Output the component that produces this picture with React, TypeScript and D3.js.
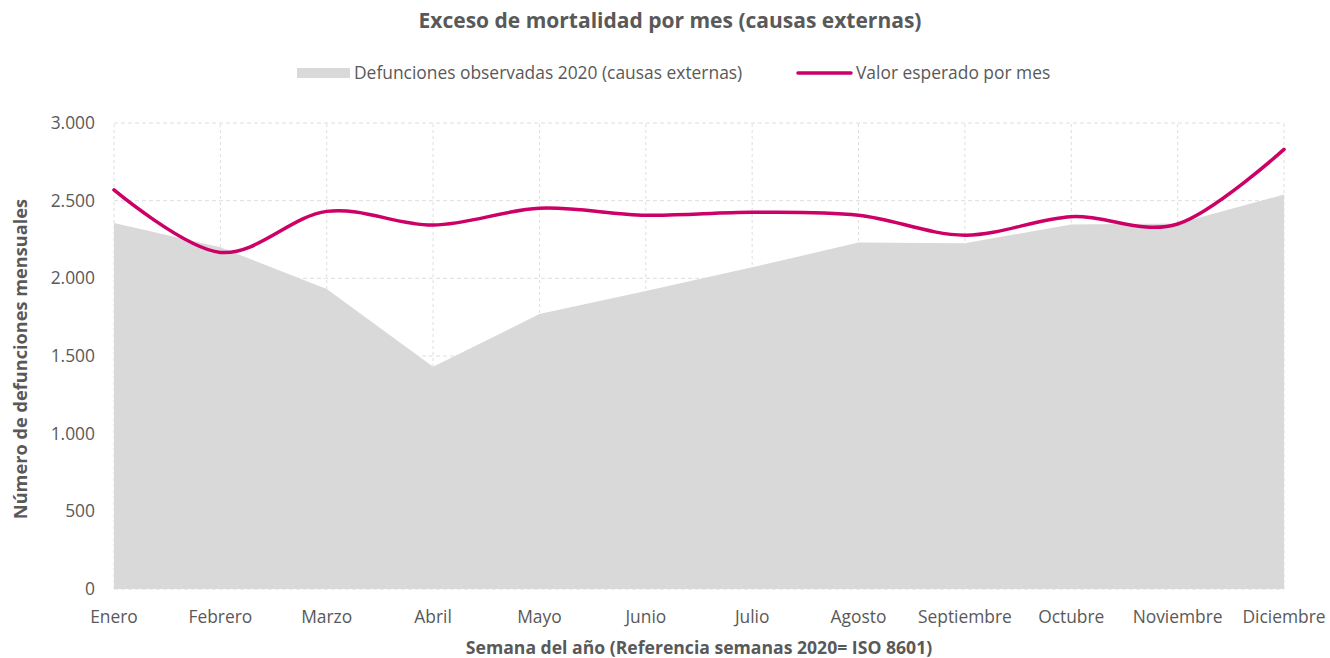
import React from "react";
import * as d3 from "d3";

const width = 1330;
const height = 658;
const margin = { top: 123, right: 46, bottom: 69, left: 114 };

const months = [
  "Enero", "Febrero", "Marzo", "Abril", "Mayo", "Junio",
  "Julio", "Agosto", "Septiembre", "Octubre", "Noviembre", "Diciembre"
];
const observed = [2356, 2200, 1931, 1431, 1770, 1918, 2071, 2230, 2226, 2347, 2353, 2539];
const expected = [2569, 2167, 2431, 2343, 2451, 2406, 2425, 2406, 2278, 2397, 2350, 2830];
const yTicks = [0, 500, 1000, 1500, 2000, 2500, 3000];

const textColor = "#595959";
const font = "'Open Sans', sans-serif";

const fmt = (v: number) => (v >= 1000 ? d3.format(",")(v).replace(",", ".") : String(v));

export default function App() {
  const x = d3
    .scalePoint<string>()
    .domain(months)
    .range([margin.left, width - margin.right]);
  const y = d3
    .scaleLinear()
    .domain([0, 3000])
    .range([height - margin.bottom, margin.top]);

  const area = d3
    .area<number>()
    .x((d, i) => x(months[i]) as number)
    .y0(y(0))
    .y1(d => y(d));

  const line = d3
    .line<number>()
    .x((d, i) => x(months[i]) as number)
    .y(d => y(d))
    .curve(d3.curveCatmullRom.alpha(0));

  return (
    <div style={{ position: "absolute", left: 0, top: 0 }}>
      <svg width={width} height={height} style={{ display: "block", fontFamily: font }}>
        <rect width={width} height={height} fill="#fff" />
        <text x={670} y={28} textAnchor="middle" fontSize={21} fontWeight="bold" fill={textColor}>
          Exceso de mortalidad por mes (causas externas)
        </text>

        {/* legend */}
        <rect x={297} y={68} width={53} height={10} fill="#d9d9d9" />
        <text x={354} y={79} fontSize={17.4} fill={textColor}>
          Defunciones observadas 2020 (causas externas)
        </text>
        <line x1={798} x2={851} y1={73} y2={73} stroke="#cc0066" strokeWidth={3.5} strokeLinecap="round" />
        <text x={856} y={79} fontSize={17.4} fill={textColor}>
          Valor esperado por mes
        </text>

        {/* grid */}
        {yTicks.map(t => (
          <line key={"h" + t} x1={margin.left} x2={width - margin.right} y1={y(t)} y2={y(t)}
            stroke="#dedede" strokeDasharray="4,3" />
        ))}
        {months.map(m => (
          <line key={"v" + m} x1={x(m)} x2={x(m)} y1={y(0)} y2={y(3000)}
            stroke="#dedede" strokeDasharray="3,3" />
        ))}

        <path d={area(observed) || ""} fill="#d9d9d9" />
        <path d={line(expected) || ""} fill="none" stroke="#cc0066" strokeWidth={3.5} strokeLinecap="round" />

        {/* y axis */}
        {yTicks.map(t => (
          <text key={"yt" + t} x={95} y={y(t) + 6} textAnchor="end" fontSize={17.4} fill={textColor}>
            {fmt(t)}
          </text>
        ))}
        {months.map(m => (
          <text key={"xt" + m} x={x(m)} y={623} textAnchor="middle" fontSize={17.4} fill={textColor}>
            {m}
          </text>
        ))}

        <text x={699} y={654} textAnchor="middle" fontSize={17.6} fontWeight="bold" fill={textColor}>
          Semana del año (Referencia semanas 2020= ISO 8601)
        </text>
        <text transform={`translate(27,359) rotate(-90)`} textAnchor="middle" fontSize={18.2}
          fontWeight="bold" fill={textColor}>
          Número de defunciones mensuales
        </text>
      </svg>
    </div>
  );
}
